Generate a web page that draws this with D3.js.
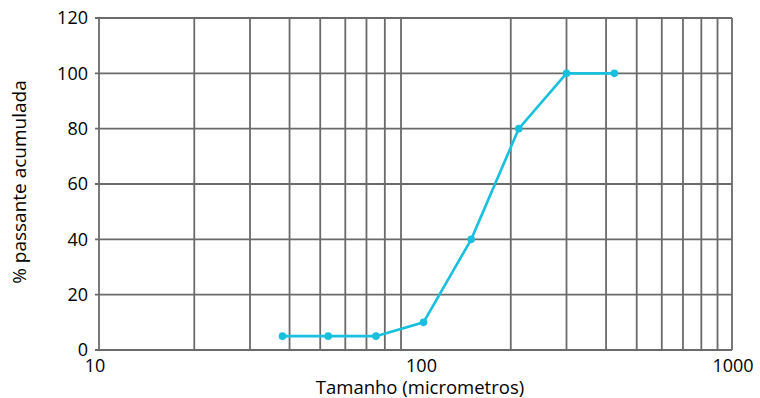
<!DOCTYPE html>
<html>
<head>
<meta charset="utf-8">
<script src="https://cdn.jsdelivr.net/npm/d3@7"></script>
<style>
  body { margin: 0; background: #fff; }
  text { font-family: "Open Sans", "Noto Sans", sans-serif; fill: #000; }
</style>
</head>
<body>
<div id="chart"></div>
<script>
// sieve sizes (micrometres) and cumulative passing %
var sizes = [38, 53, 75, 106, 150, 212, 300, 425];
var passing = [5, 5, 5, 10, 40, 80, 100, 100];
var yTicks = [0, 20, 40, 60, 80, 100, 120];
var xLabels = [10, 100, 1000];

var width = 760, height = 398;
var mLeft = 99, mRight = 732, mTop = 18, mBottom = 350;

var svg = d3.select("#chart").append("svg").attr("width", width).attr("height", height);

var x = d3.scaleLog().domain([10, 1000]).range([mLeft, mRight]);
var y = d3.scaleLinear().domain([0, 120]).range([mBottom, mTop]);

// log grid: 20..90, 200..900
var xGrid = [];
[10, 100].forEach(function (d) {
    for (var k = 2; k <= 9; k++) xGrid.push(d * k);
});

var grid = svg.append("g").attr("stroke", "#6a6a6a").attr("stroke-width", 1.8);

grid.selectAll("line.v").data(xGrid).enter().append("line")
    .attr("class", "v")
    .attr("x1", function (d) { return x(d); })
    .attr("x2", function (d) { return x(d); })
    .attr("y1", mTop).attr("y2", mBottom);

grid.selectAll("line.h").data(yTicks.slice(1)).enter().append("line")
    .attr("class", "h")
    .attr("x1", mLeft - 4).attr("x2", mRight)
    .attr("y1", function (d) { return y(d); })
    .attr("y2", function (d) { return y(d); });

// frame
grid.append("line").attr("x1", mLeft - 4).attr("x2", mRight).attr("y1", mBottom).attr("y2", mBottom);
grid.append("line").attr("x1", mLeft).attr("x2", mLeft).attr("y1", mTop).attr("y2", mBottom);
grid.append("line").attr("x1", mRight).attr("x2", mRight).attr("y1", mTop).attr("y2", mBottom);

// y tick labels
svg.selectAll("text.yt").data(yTicks).enter().append("text")
    .attr("class", "yt")
    .attr("x", mLeft - 11)
    .attr("y", function (d) { return y(d); })
    .attr("dy", "0.35em")
    .attr("text-anchor", "end")
    .attr("font-size", 18)
    .text(function (d) { return d; });

// x tick labels
svg.selectAll("text.xt").data(xLabels).enter().append("text")
    .attr("class", "xt")
    .attr("x", function (d) { return x(d) + (d === 10 ? -4 : d === 100 ? 6 : 1); })
    .attr("y", mBottom + 22)
    .attr("text-anchor", "middle")
    .attr("font-size", 18)
    .text(function (d) { return d; });

// axis titles
svg.append("text")
    .attr("x", 420).attr("y", 394)
    .attr("text-anchor", "middle")
    .attr("font-size", 18.5)
    .text("Tamanho (micrometros)");

svg.append("text")
    .attr("transform", "translate(26," + ((mTop + mBottom) / 2 - 2) + ") rotate(-90)")
    .attr("text-anchor", "middle")
    .attr("font-size", 19)
    .text("% passante acumulada");

// the curve
var pts = sizes.map(function (s, i) { return [s, passing[i]]; });
var line = d3.line()
    .x(function (d) { return x(d[0]); })
    .y(function (d) { return y(d[1]); });

svg.append("path")
    .datum(pts)
    .attr("fill", "none")
    .attr("stroke", "#18c0de")
    .attr("stroke-width", 2.6)
    .attr("d", line);

svg.selectAll("circle").data(pts).enter().append("circle")
    .attr("cx", function (d) { return x(d[0]); })
    .attr("cy", function (d) { return y(d[1]); })
    .attr("r", 3.8)
    .attr("fill", "#18c0de");
</script>
</body>
</html>
